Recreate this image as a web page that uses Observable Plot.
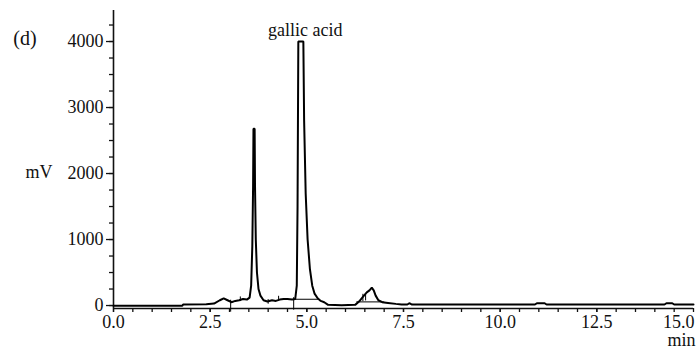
<!DOCTYPE html>
<html>
<head>
<meta charset="utf-8">
<script src="https://cdn.jsdelivr.net/npm/d3@7"></script>
<script src="https://cdn.jsdelivr.net/npm/@observablehq/plot@0.6"></script>
<style>
  html, body { margin: 0; padding: 0; background: #fff; }
  #chart { width: 699px; height: 350px; }
</style>
</head>
<body>
<div id="chart"></div>
<script>
// Retention time (min) and detector signal (mV)
const times = [0.00, 1.78, 1.80, 2.40, 2.60, 2.75, 2.85, 2.95, 3.05, 3.15, 3.25, 3.35, 3.45, 3.52,
  3.56, 3.59, 3.61, 3.62, 3.65, 3.66, 3.68, 3.71, 3.75, 3.80, 3.88, 3.98, 4.10, 4.20, 4.30, 4.40,
  4.50, 4.62, 4.70, 4.74, 4.76, 4.78, 4.91, 4.93, 4.97, 5.02, 5.08, 5.14, 5.20, 5.28, 5.36, 5.45,
  5.55, 5.90, 6.25, 6.35, 6.45, 6.55, 6.62, 6.68, 6.73, 6.78, 6.85, 6.95, 7.10, 7.30, 7.45, 7.60,
  7.65, 7.72, 10.90, 10.95, 11.15, 11.20, 14.25, 14.30, 14.45, 14.50, 15.00];
const signal = [-5, -5, 15, 20, 30, 80, 110, 80, 50, 70, 80, 100, 90, 120,
  300, 900, 1800, 2680, 2680, 1800, 1000, 500, 250, 150, 80, 60, 80, 70, 90, 100,
  100, 90, 100, 300, 1500, 4000, 4000, 2800, 1700, 1000, 550, 300, 180, 110, 70, 50,
  10, 5, 10, 60, 130, 200, 230, 270, 230, 150, 80, 50, 40, 25, 15, 15,
  35, 15, 15, 35, 35, 15, 15, 35, 35, 15, 15];

// integration baselines drawn under peaks
const baseStart = [4.66, 6.28];
const baseEnd = [5.30, 7.00];
const baseLevel = [95, 55];

// integration event markers (vertical strokes)
const markerTime = [3.03, 3.28, 4.00, 4.27, 4.66, 6.45, 6.52];
const markerLow = [-100, 60, 20, 80, -70, 60, 70];
const markerHigh = [80, 130, 90, 140, 120, 170, 180];

// axis ticks
const yTicks = [0, 1000, 2000, 3000, 4000];
const yMinor = [0, 250, 500, 750, 1000, 1250, 1500, 1750, 2000, 2250, 2500, 2750, 3000, 3250, 3500, 3750, 4000, 4250];
const xTicks = [0, 2.5, 5, 7.5, 10, 12.5];
const xLast = [15];
const xMinor = d3.range(0, 15.01, 0.5).map(d => +d.toFixed(1));

const peakLabels = ["gallic acid"];
const peakLabelTime = [4.96];
const peakLabelValue = [4000];

const data = times.map((t, i) => ({t, v: signal[i]}));
const baselines = baseStart.map((s, i) => ({s, e: baseEnd[i], v: baseLevel[i]}));
const markers = markerTime.map((t, i) => ({t, lo: markerLow[i], hi: markerHigh[i]}));
const labels = peakLabels.map((l, i) => ({l, t: peakLabelTime[i], v: peakLabelValue[i]}));

const FONT = "Liberation Serif, Times New Roman, serif";

const chart = Plot.plot({
  width: 699,
  height: 350,
  marginLeft: 113,
  marginRight: 6,
  marginTop: 10,
  marginBottom: 42,
  style: {fontFamily: FONT, fontSize: "18px", color: "#111", background: "#fff", overflow: "visible"},
  x: {domain: [0, 15]},
  y: {domain: [-45, 4470]},
  marks: [
    Plot.axisY({ticks: yMinor, tickSize: 4, text: null, label: null, strokeWidth: 1.3}),
    Plot.axisY({ticks: yTicks, tickSize: 7, tickPadding: 3, label: null, tickFormat: d => String(d), fontSize: 18, strokeWidth: 1.3}),
    Plot.axisX({ticks: xMinor, tickSize: 4, text: null, label: null, strokeWidth: 1.3}),
    Plot.axisX({ticks: xTicks, tickSize: 4, tickPadding: 3, label: null, tickFormat: d => d.toFixed(1), fontSize: 18, strokeWidth: 1.3}),
    Plot.text(xLast, {x: d => d, frameAnchor: "bottom", lineAnchor: "top", textAnchor: "end", dy: 7, dx: 1, text: d => d.toFixed(1), fontSize: 18}),
    Plot.text(["min"], {x: () => 15, frameAnchor: "bottom", lineAnchor: "top", textAnchor: "end", dy: 25, dx: 2, text: d => d, fontSize: 18}),
    Plot.ruleX([0], {strokeWidth: 1.6}),
    Plot.ruleY([-45], {strokeWidth: 1.6}),
    Plot.link(baselines, {x1: "s", x2: "e", y1: "v", y2: "v", stroke: "#000", strokeWidth: 1}),
    Plot.ruleX(markers, {x: "t", y1: "lo", y2: "hi", stroke: "#000", strokeWidth: 1}),
    Plot.line(data, {x: "t", y: "v", stroke: "#000", strokeWidth: 2, strokeLinejoin: "miter"}),
    Plot.text(labels, {x: "t", y: "v", text: "l", lineAnchor: "bottom", dy: -6, fontSize: 18})
  ]
});

const svg = d3.select(chart);
svg.append("text").attr("x", 25).attr("y", 45).attr("text-anchor", "middle").attr("font-family", FONT).attr("font-size", 20).attr("fill", "#111").text("(d)");
svg.append("text").attr("x", 39).attr("y", 178).attr("text-anchor", "middle").attr("font-family", FONT).attr("font-size", 18).attr("fill", "#111").text("mV");

document.getElementById("chart").appendChild(chart);
</script>
</body>
</html>
